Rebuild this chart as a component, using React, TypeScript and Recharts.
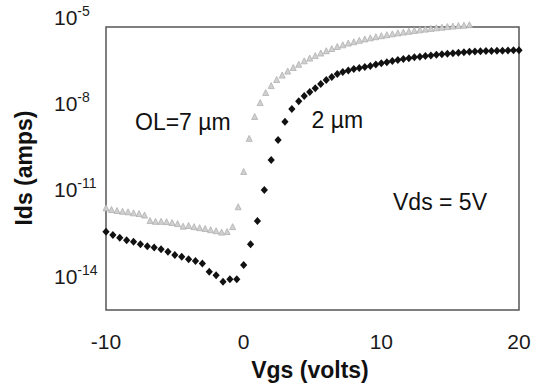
import React from 'react';
import { ScatterChart, Scatter, XAxis, YAxis, ReferenceArea, Label } from 'recharts';

// OL = 2 um device (black diamonds)
const vgsBlack = [
  -10, -9.5, -9, -8.5, -8, -7.5, -7, -6.5, -6, -5.5, -5, -4.5, -4, -3.5, -3, -2.5, -2, -1.5, -1, -0.5,
  0, 0.5, 1, 1.5, 2, 2.5, 3, 3.5,
  4, 4.4, 4.8, 5.2, 5.6, 6, 6.4, 6.8, 7.2, 7.6, 8, 8.4, 8.8, 9.2, 9.6, 10, 10.4, 10.8, 11.2, 11.6,
  12, 12.4, 12.8, 13.2, 13.6, 14, 14.4, 14.8, 15.2, 15.6, 16, 16.4, 16.8, 17.2, 17.6, 18, 18.4, 18.8,
  19.2, 19.6, 20,
];
const idsBlack = [
  3.5e-13, 2.7e-13, 2.2e-13, 1.8e-13, 1.6e-13, 1.3e-13, 1.1e-13, 1.0e-13, 8.7e-14, 7.1e-14, 5.5e-14,
  4.8e-14, 3.9e-14, 3.4e-14, 2.8e-14, 1.45e-14, 1.1e-14, 6.5e-15, 7.9e-15, 7.9e-15,
  2.5e-14, 1.3e-13, 8.3e-13, 1.0e-11, 1.1e-10, 5.4e-10, 2.3e-9, 6.4e-9,
  1.2e-8, 1.8e-8, 2.5e-8, 3.4e-8, 4.7e-8, 6.5e-8, 8.3e-8, 1.05e-7, 1.23e-7, 1.39e-7, 1.57e-7, 1.7e-7,
  1.84e-7, 2.0e-7, 2.25e-7, 2.5e-7, 2.7e-7, 2.95e-7, 3.2e-7, 3.5e-7, 3.7e-7, 4.0e-7, 4.2e-7, 4.4e-7,
  4.65e-7, 4.9e-7, 5.1e-7, 5.3e-7, 5.5e-7, 5.8e-7, 6.0e-7, 6.2e-7, 6.3e-7, 6.45e-7, 6.55e-7, 6.65e-7,
  6.75e-7, 6.8e-7, 6.9e-7, 6.95e-7, 7.0e-7,
];

// OL = 7 um device (gray triangles)
const vgsGray = [
  -10, -9.6, -9.2, -8.8, -8.4, -8, -7.6, -7.2, -6.8, -6.4, -6, -5.6, -5.2, -4.8, -4.4, -4, -3.6, -3.2,
  -2.8, -2.4, -2, -1.6, -1.2, -0.8, -0.4, 0, 0.4, 0.8, 1.2, 1.6, 2, 2.4, 2.8, 3.2, 3.6, 4, 4.4, 4.8,
  5.2, 5.6, 6, 6.4, 6.8, 7.2, 7.6, 8, 8.4, 8.8, 9.2, 9.6, 10, 10.4, 10.8, 11.2, 11.6, 12, 12.4, 12.8,
  13.2, 13.6, 14, 14.4, 14.8, 15.2, 15.6, 16, 16.4,
];
const idsGray = [
  2.3e-12, 2.0e-12, 1.85e-12, 1.75e-12, 1.67e-12, 1.54e-12, 1.45e-12, 1.29e-12, 8.3e-13, 7.8e-13,
  7.8e-13, 7.6e-13, 7.1e-13, 6.5e-13, 5.3e-13, 5.6e-13, 5.1e-13, 4.7e-13, 4.4e-13, 4.0e-13, 3.7e-13,
  3.3e-13, 3.45e-13, 5.1e-13, 2.5e-12, 4.2e-11, 5.9e-10, 3.4e-9, 1.03e-8, 2.3e-8, 4.0e-8, 6.5e-8,
  9.3e-8, 1.28e-7, 1.7e-7, 2.2e-7, 2.9e-7, 3.6e-7, 4.4e-7, 5.4e-7, 6.5e-7, 7.75e-7, 9.1e-7, 1.04e-6,
  1.2e-6, 1.33e-6, 1.49e-6, 1.66e-6, 1.82e-6, 1.99e-6, 2.16e-6, 2.33e-6, 2.5e-6, 2.7e-6, 2.88e-6,
  3.06e-6, 3.27e-6, 3.45e-6, 3.65e-6, 3.86e-6, 4.05e-6, 4.25e-6, 4.46e-6, 4.65e-6, 4.83e-6, 5.0e-6,
  5.2e-6,
];

const xTicks = [-10, 0, 10, 20];
const yTicks = [1e-14, 1e-11, 1e-8, 1e-5];
const yTickExps = ['-14', '-11', '-8', '-5'];
const yDomain = [6.8e-16, 1e-5];
const boxTop = 4.5e-6;

const dataBlack = vgsBlack.map((v, i) => ({ v, ids: idsBlack[i] }));
const dataGray = vgsGray.map((v, i) => ({ v, ids: idsGray[i] }));

const FONT = '"Liberation Sans", Arial, Helvetica, sans-serif';

const Diamond = (p: any) => {
  const { cx, cy } = p;
  if (cx == null || cy == null) return null;
  return (
    <polygon
      points={`${cx},${cy - 4} ${cx + 3.6},${cy} ${cx},${cy + 4} ${cx - 3.6},${cy}`}
      fill="#111"
    />
  );
};

const Tri = (p: any) => {
  const { cx, cy } = p;
  if (cx == null || cy == null) return null;
  return (
    <polygon
      points={`${cx},${cy - 3.5} ${cx + 3},${cy + 2.5} ${cx - 3},${cy + 2.5}`}
      fill="#d0d0d0"
      stroke="#b0b0b0"
      strokeWidth={0.8}
    />
  );
};

const XTick = (p: any) => (
  <text x={p.x} y={p.y + 39} textAnchor="middle" fontFamily={FONT} fontSize={21} fill="#1a1a1a">
    {p.payload.value}
  </text>
);

const YTick = (p: any) => {
  const idx = yTicks.indexOf(p.payload.value);
  const exp = idx >= 0 ? yTickExps[idx] : '';
  return (
    <text x={p.x - 52} y={p.y + 7.5} textAnchor="start" fontFamily={FONT} fontSize={21} fill="#1a1a1a">
      <tspan>10</tspan>
      <tspan dy={-9} fontSize={14}>{exp}</tspan>
    </text>
  );
};

const Texts = () => (
  <g fontFamily={FONT} fill="#111">
    <text x={310} y={378} textAnchor="middle" fontSize={23} fontWeight="bold">Vgs (volts)</text>
    <text
      x={32}
      y={168}
      textAnchor="middle"
      fontSize={23}
      fontWeight="bold"
      transform="rotate(-90 32 168)"
    >
      Ids (amps)
    </text>
    <text x={135} y={129.5} fontSize={23}>OL=7 µm</text>
    <text x={311.5} y={128} fontSize={23}>2 µm</text>
    <text x={393} y={210} fontSize={23}>Vds = 5V</text>
  </g>
);

export default function App() {
  return (
    <div style={{ position: 'absolute', left: 0, top: 0, background: '#fff' }}>
      <ScatterChart
        width={543}
        height={387}
        margin={{ top: 17, right: 24, bottom: 27, left: 6 }}
      >
        <XAxis
          type="number"
          dataKey="v"
          domain={[-10, 20]}
          ticks={xTicks}
          axisLine={false}
          tickLine={false}
          tickSize={0}
          tickMargin={0}
          height={50}
          tick={<XTick />}
          interval={0}
        >
          <Label content={() => <Texts />} />
        </XAxis>
        <YAxis
          type="number"
          dataKey="ids"
          scale="log"
          domain={yDomain}
          allowDataOverflow
          ticks={yTicks}
          axisLine={false}
          tickLine={false}
          tickSize={0}
          tickMargin={0}
          width={100}
          tick={<YTick />}
          interval={0}
        />
        <ReferenceArea
          x1={-10}
          x2={20}
          y1={yDomain[0]}
          y2={boxTop}
          fill="none"
          fillOpacity={0}
          stroke="#555"
          strokeWidth={1.5}
          ifOverflow="visible"
        />
        <Scatter data={dataGray} shape={<Tri />} isAnimationActive={false} />
        <Scatter data={dataBlack} shape={<Diamond />} isAnimationActive={false} />
      </ScatterChart>
    </div>
  );
}
